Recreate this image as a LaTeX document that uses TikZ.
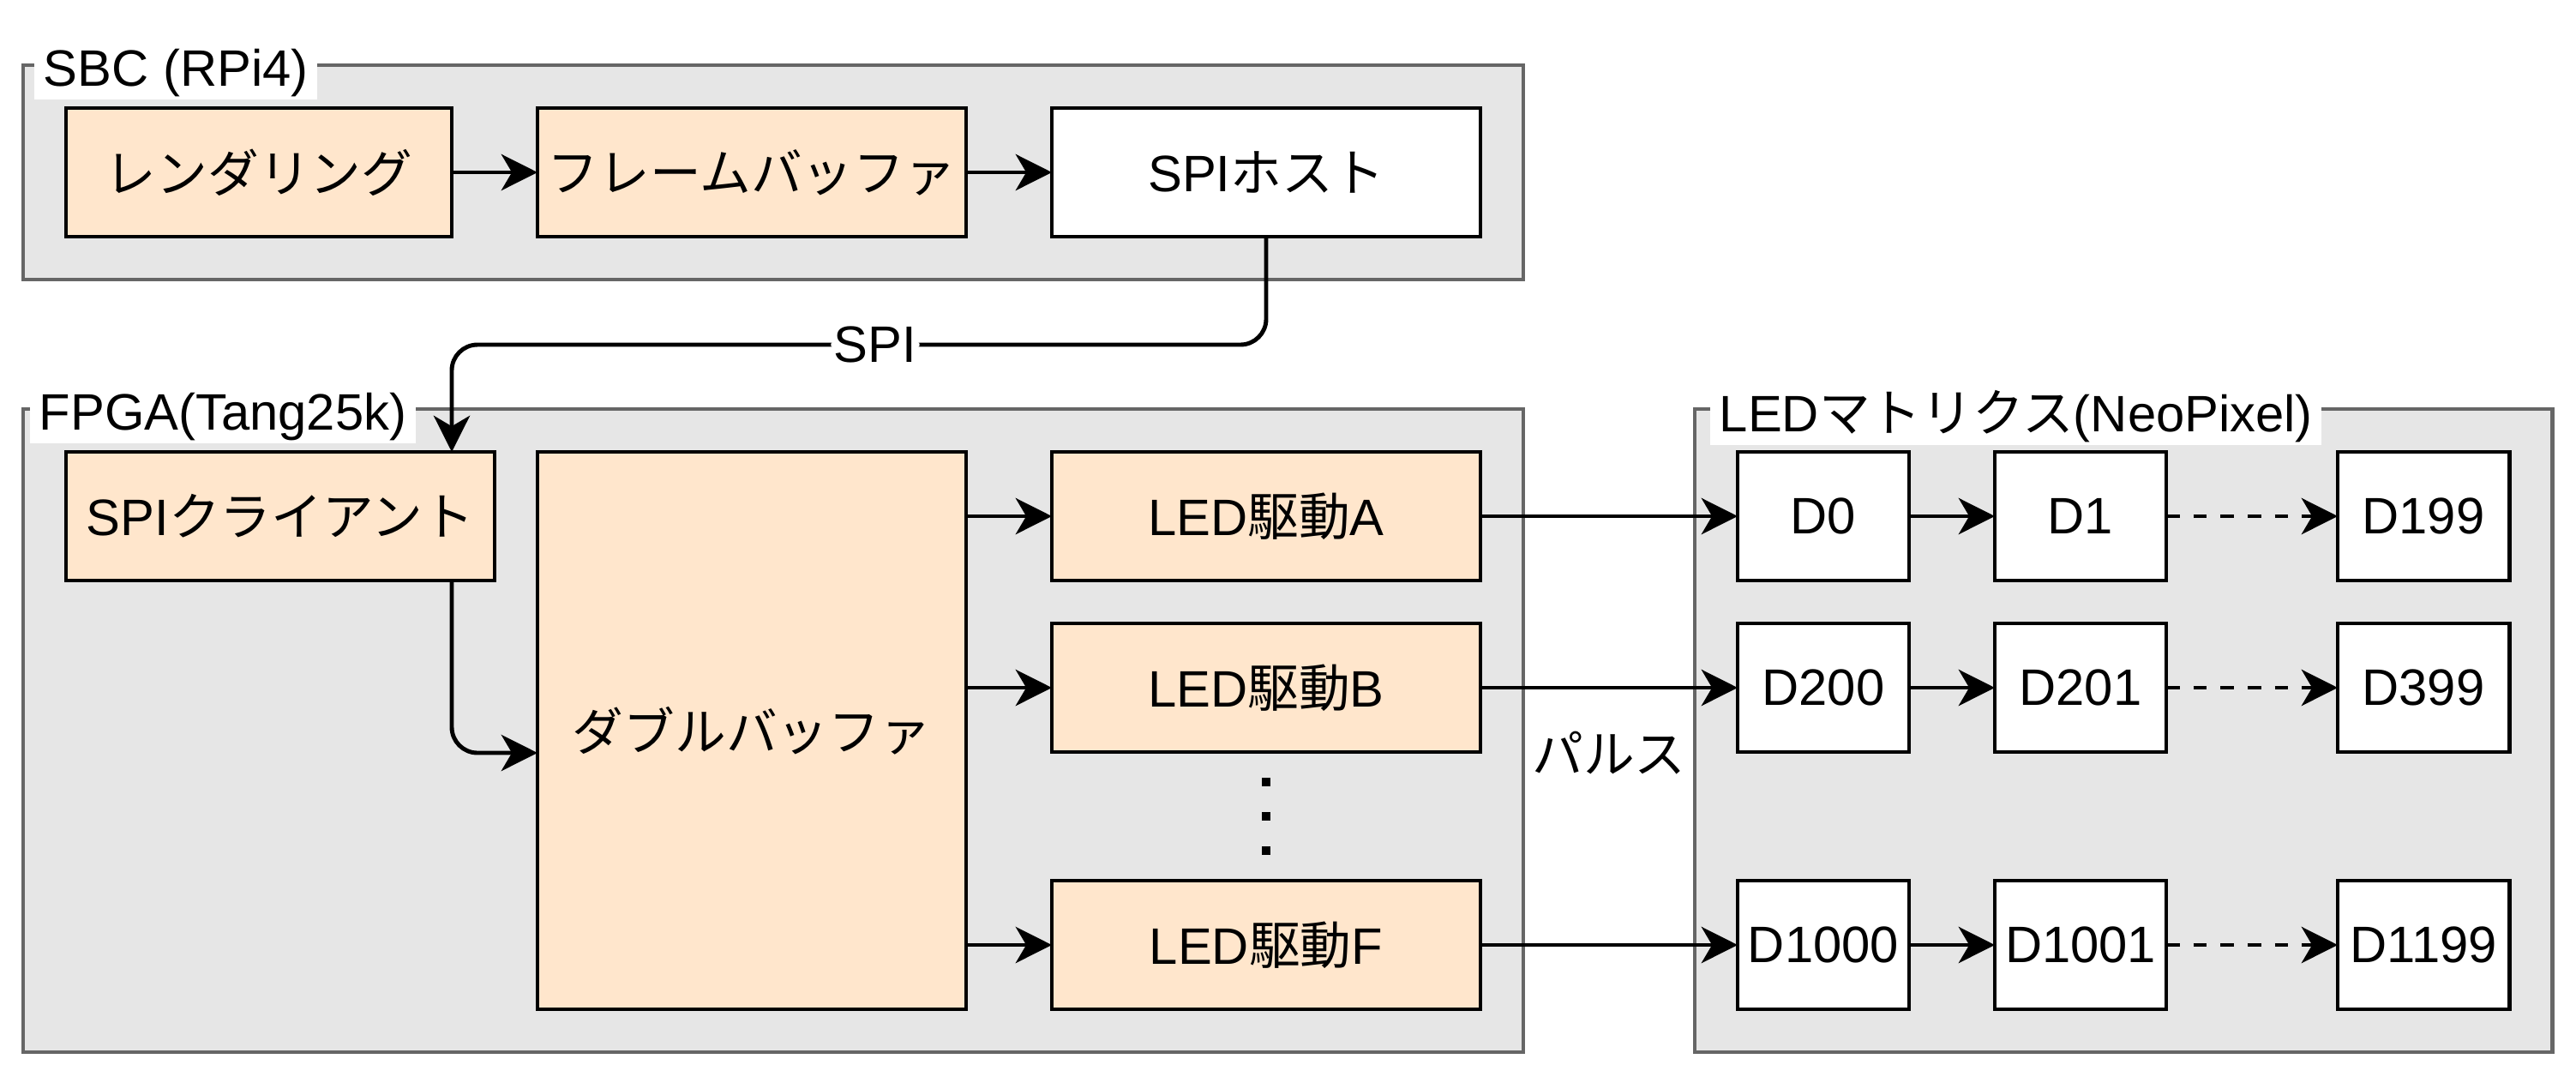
\documentclass[tikz,border=0pt]{standalone}
\usepackage{fontspec}
\setmainfont{Liberation Sans}
\newfontfamily\jp{Noto Sans CJK JP}
\usetikzlibrary{arrows.meta,positioning,fit,calc,backgrounds}
\definecolor{peach}{HTML}{FFE6CC}
\definecolor{groupfill}{HTML}{E6E6E6}
\definecolor{groupline}{HTML}{666666}
\newcommand{\diagfont}{\fontsize{17}{20}\selectfont}
\tikzset{
  blockbox/.style={
    rectangle, draw=black, fill=#1, line width=1.4pt,
    minimum width=5cm, minimum height=1.5cm, outer sep=0pt,
    font=\diagfont, align=center, inner sep=2pt
  },
  blockbox/.default=peach,
  pixelbox/.style={
    rectangle, draw=black, fill=white, line width=1.4pt,
    minimum width=2cm, minimum height=1.5cm, outer sep=0pt,
    font=\diagfont, inner sep=1pt
  },
  groupbox/.style={
    rectangle, draw=groupline, fill=groupfill, line width=1.4pt,
    inner sep=0.5cm
  },
  grouplabel/.style={
    fill=white, font=\diagfont, anchor=west,
    inner xsep=3pt, inner ysep=1pt
  },
  dataarrow/.style={
    -{Stealth[length=12pt, width=12pt, inset=3.5pt]}, line width=1.4pt
  },
  chainarrow/.style={
    dataarrow, dash pattern=on 4.5pt off 4.5pt
  },
  labelnode/.style={
    font=\diagfont, fill=white, inner sep=1pt
  },
}

\begin{document}
\begin{tikzpicture}
  \useasboundingbox (0,0) rectangle (30.05,-12.55);

  % SBC side
  \node[blockbox, minimum width=4.5cm, anchor=north west] (rend) at (0.77,-1.26) {\jp レンダリング};
  \node[blockbox, right=1cm of rend] (fbuf) {\jp フレームバッファ};
  \node[blockbox=white, right=1cm of fbuf] (spihost) {SPI{\jp ホスト}};
  \draw[dataarrow] (rend) -- (fbuf);
  \draw[dataarrow] (fbuf) -- (spihost);

  % FPGA side
  \node[blockbox, anchor=north west] (spicli) at (0.77,-5.27) {SPI{\jp クライアント}};
  \node[blockbox, minimum height=6.5cm, right=0.5cm of spicli.north east, anchor=north west] (dbuf) {\jp ダブルバッファ};
  \node[blockbox, right=1cm of dbuf.north east, anchor=north west] (ledA) {LED{\jp 駆動}A};
  \node[blockbox, below=0.5cm of ledA] (ledB) {LED{\jp 駆動}B};
  \node[blockbox, below=1.5cm of ledB] (ledF) {LED{\jp 駆動}F};
  \foreach \dy in {-0.4,0,0.4}
    \fill ($(ledB.south)!0.5!(ledF.north)+(0,\dy)$) +(-0.05,-0.05) rectangle +(0.05,0.05);
  \draw[dataarrow] (dbuf.east |- ledA) -- (ledA);
  \draw[dataarrow] (dbuf.east |- ledB) -- (ledB);
  \draw[dataarrow] (dbuf.east |- ledF) -- (ledF);

  % LED matrix
  \node[pixelbox, anchor=north west] (d0) at (20.27,-5.27) {D0};
  \node[pixelbox, right=1cm of d0] (d1) {D1};
  \node[pixelbox, right=2cm of d1] (d199) {D199};
  \node[pixelbox, below=0.5cm of d0] (d200) {D200};
  \node[pixelbox, right=1cm of d200] (d201) {D201};
  \node[pixelbox, right=2cm of d201] (d399) {D399};
  \node[pixelbox, below=1.5cm of d200] (d1000) {D1000};
  \node[pixelbox, right=1cm of d1000] (d1001) {D1001};
  \node[pixelbox, right=2cm of d1001] (d1199) {D1199};
  \draw[dataarrow] (d0) -- (d1);
  \draw[chainarrow] (d1) -- (d199);
  \draw[dataarrow] (d200) -- (d201);
  \draw[chainarrow] (d201) -- (d399);
  \draw[dataarrow] (d1000) -- (d1001);
  \draw[chainarrow] (d1001) -- (d1199);

  % group frames
  \begin{scope}[on background layer]
    \node[groupbox, fit=(rend)(spihost)] (sbc) {};
    \node[groupbox, fit=(spicli)(dbuf)(ledA)(ledF)] (fpga) {};
    \node[groupbox, fit=(d0)(d1199)] (ledmat) {};
  \end{scope}
  \node[grouplabel] at ([xshift=0.15cm, yshift=-0.11cm]sbc.north west) {SBC (RPi4)};
  \node[grouplabel] at ([xshift=0.1cm, yshift=-0.11cm]fpga.north west) {FPGA(Tang25k)};
  \node[grouplabel] at ([xshift=0.2cm, yshift=-0.11cm]ledmat.north west) {LED{\jp マトリクス}(NeoPixel)};

  % links
  \draw[dataarrow, rounded corners=0.3cm] (spihost.south) -- ++(0,-1.26)
    -| node[labelnode, pos=0.24] {SPI} ([xshift=-0.5cm]spicli.north east);
  \draw[dataarrow, rounded corners=0.3cm] ([xshift=-0.5cm]spicli.south east) |- ([yshift=-0.26cm]dbuf.west);
  \draw[dataarrow] (ledA) -- (d0);
  \draw[dataarrow] (ledB) -- (d200);
  \draw[dataarrow] (ledF) -- (d1000);
  \node[font=\diagfont] (pulse) at ($(fpga.east)!0.5!(ledmat.west)+(0,-0.26)$) {\jp パルス};
\end{tikzpicture}
\end{document}
